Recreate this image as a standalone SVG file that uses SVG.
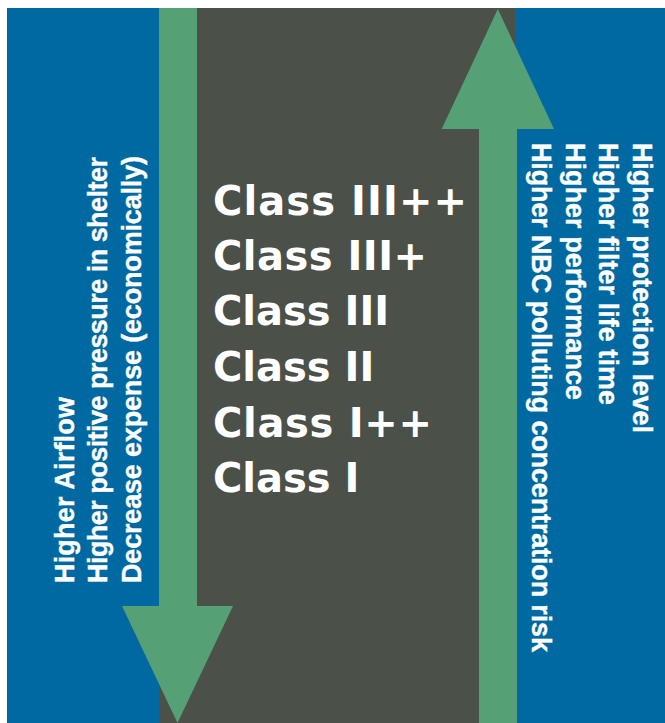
<svg xmlns="http://www.w3.org/2000/svg" width="665" height="723" viewBox="0 0 665 723">
  <style>
    .blue { fill: #0069A2; }
    .dark { fill: #4B5048; }
    .arrow { fill: #55A075; }
    .cls { font-family: "DejaVu Sans", "Liberation Sans", sans-serif; font-weight: bold; font-size: 40px; fill: #FFFFFF; }
    .side { font-family: "Liberation Sans", Arial, sans-serif; font-weight: bold; font-size: 27px; fill: #FFFFFF; stroke: #FFFFFF; stroke-width: 0.4px; }
  </style>
  <rect x="0" y="0" width="665" height="723" fill="#FFFFFF"/>

  <g id="left-panel">
    <rect class="blue" x="7" y="8" width="153" height="715"/>
    <text class="side" transform="translate(73.5,583) rotate(-90)" textLength="186" lengthAdjust="spacing">Higher Airflow</text>
    <text class="side" transform="translate(107,583) rotate(-90)" textLength="426" lengthAdjust="spacing">Higher positive pressure in shelter</text>
    <text class="side" transform="translate(140.5,583) rotate(-90)" textLength="427" lengthAdjust="spacing">Decrease expense (economically)</text>
  </g>

  <g id="center-panel">
    <rect class="dark" x="159" y="8" width="357" height="715"/>
  </g>

  <g id="right-panel">
    <rect class="blue" x="515" y="8" width="150" height="715"/>
    <text class="side" transform="translate(632.5,143) rotate(90)" textLength="290" lengthAdjust="spacing">Higher protection level</text>
    <text class="side" transform="translate(599,143) rotate(90)" textLength="262" lengthAdjust="spacing">Higher filter life time</text>
    <text class="side" transform="translate(565.5,143) rotate(90)" textLength="257" lengthAdjust="spacing">Higher performance</text>
    <text class="side" transform="translate(532,143) rotate(90)" textLength="509" lengthAdjust="spacing">Higher NBC polluting concentration risk</text>
  </g>

  <g id="connectors">
    <polygon class="arrow" points="159,8 197,8 197,606 233,606 177.5,723 122,606 159,606"/>
    <polygon class="arrow" points="479,723 517,723 517,129 554,129 497.8,9 441.7,129 479,129"/>
  </g>

  <g id="classes">
    <text class="cls" x="213" y="215" textLength="254" lengthAdjust="spacing">Class III++</text>
    <text class="cls" x="213" y="270" textLength="214" lengthAdjust="spacing">Class III+</text>
    <text class="cls" x="213" y="325">Class III</text>
    <text class="cls" x="213" y="381">Class II</text>
    <text class="cls" x="213" y="437" textLength="219" lengthAdjust="spacing">Class I++</text>
    <text class="cls" x="213" y="492">Class I</text>
  </g>
</svg>
